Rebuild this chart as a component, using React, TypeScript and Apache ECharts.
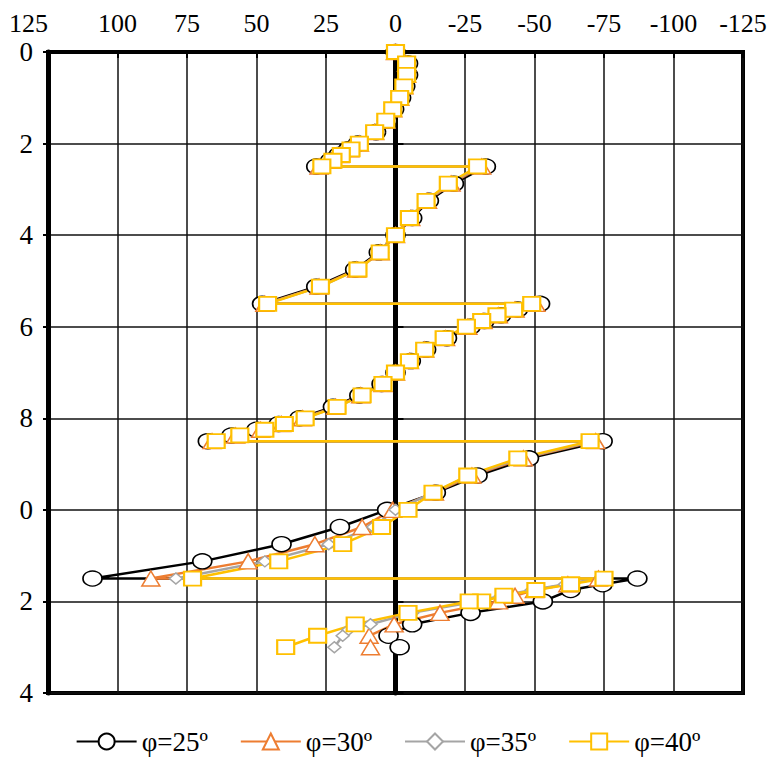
import React, { useEffect, useRef } from "react";
import * as echarts from "echarts";

// Shared depths (m) for the upper part of the profile
const depthUpper = [0, 0.25, 0.5, 0.75, 1, 1.25, 1.5, 1.75, 2, 2.125, 2.25, 2.375, 2.5, 2.5, 2.875, 3.25, 3.625, 4, 4.375, 4.75, 5.125, 5.5, 5.5, 5.625, 5.75, 5.875, 6, 6.25, 6.5, 6.75, 7, 7.25, 7.5, 7.75, 8, 8.125, 8.25, 8.375, 8.5, 8.5, 8.875, 9.25, 9.625];

const phi25Upper = [0, -4.5, -4.5, -3.5, -2, 0.5, 3, 7, 13.5, 17, 20.5, 23.5, 28.5, -32.5, -21, -12, -6, 0, 6, 14.5, 28.5, 48, -52, -44, -38, -32, -27, -18.5, -11, -5.5, 0, 5, 13, 22.5, 34.5, 42, 50, 59, 67.5, -74.5, -48, -29.5, -14.5];
const phi30Upper = [0, -4, -4, -3, -1.5, 1, 3.5, 7.5, 13, 16.5, 20, 23, 27.5, -31, -20, -11.5, -5.5, 0, 5.5, 14, 27.5, 47, -50.5, -43, -37, -31.5, -26, -18, -10.5, -5, 0, 4.5, 12.5, 21.5, 33.5, 41, 48.5, 57.5, 66, -72, -46, -27.5, -14];
const phi35Upper = [0, -4, -4, -3, -1.5, 1, 3.5, 7.5, 13, 16, 19.5, 22.5, 27, -30, -19.5, -11, -5, 0, 5.5, 13.5, 27, 46.5, -49.5, -42.5, -36.5, -31, -25.5, -17.5, -10.5, -5, 0, 4.5, 12, 21, 33, 40.5, 47.5, 56.5, 65, -71, -45, -26.5, -13.5];
const phi40Upper = [0, -4, -4, -3, -1.5, 1, 3.5, 7.5, 13, 16, 19.5, 22.5, 26.5, -29.5, -19, -11, -5, 0, 5.5, 13.5, 27, 46, -49, -42.5, -36.5, -31, -25.5, -17.5, -10.5, -5, 0, 4.5, 12, 21, 32.5, 40, 47, 56, 64.5, -70, -44, -26, -13.5];

// Lower part of the profile (series diverge)
const phi25LowerDepth = [10, 10.375, 10.75, 11.125, 11.5, 11.5, 11.625, 11.75, 12, 12.25, 12.5, 12.75, 13];
const phi25Lower = [3, 20, 41, 69.5, 109, -87, -74.5, -63, -53, -27, -6, 2.5, -1.5];
const phi30LowerDepth = [10, 10.375, 10.75, 11.125, 11.5, 11.5, 11.625, 11.75, 11.875, 12, 12.25, 12.5, 12.75, 13];
const phi30Lower = [1, 12, 29, 53, 88, -73, -62, -50, -43, -37, -16, 0.5, 9.5, 9];
const phi35LowerDepth = [10, 10.375, 10.75, 11.125, 11.5, 11.5, 11.625, 11.75, 11.875, 12, 12.25, 12.5, 12.625, 12.75, 13];
const phi35Lower = [0, 8, 24, 47, 79, -74, -61, -49, -38, -29, -6, 9, 17, 19, 22];
const phi40LowerDepth = [10, 10.375, 10.75, 11.125, 11.5, 11.5, 11.625, 11.75, 11.875, 12, 12, 12.25, 12.5, 12.75, 13];
const phi40Lower = [-4.5, 5, 19, 42, 73, -75, -63, -50.5, -39, -31, -26.5, -4.5, 14.5, 28, 39.5];

const seriesNames = ["φ=25º", "φ=30º", "φ=35º", "φ=40º"];
const FONT = "'Liberation Serif', 'DejaVu Serif', serif";

function pairs(xs: number[], ds: number[]) {
  return xs.map((x, i) => [x, ds[i]]);
}

export default function App() {
  const ref = useRef<HTMLDivElement>(null);
  useEffect(() => {
    const chart = echarts.init(ref.current!, null, { renderer: "svg" });
    const mk = (
      name: string,
      data: number[][],
      color: string,
      symbol: string,
      size: number[],
      bw: number
    ) => ({
      name,
      type: "line",
      data,
      symbol,
      symbolSize: size,
      showSymbol: true,
      xAxisIndex: 0,
      yAxisIndex: 0,
      lineStyle: { color, width: 2.5 },
      itemStyle: { color: "#fff", borderColor: color, borderWidth: bw },
      emphasis: { disabled: true },
    });
    const option = {
      animation: false,
      textStyle: { fontFamily: FONT },
      grid: {
        left: 48,
        right: 33,
        top: 52,
        bottom: 69,
        show: true,
        borderColor: "#000",
        borderWidth: 4,
      },
      legend: {
        bottom: 2,
        left: "center",
        itemWidth: 60,
        itemHeight: 20,
        itemGap: 32,
        textStyle: { fontFamily: FONT, fontSize: 27, color: "#000" },
        data: seriesNames,
      },
      xAxis: {
        type: "value",
        position: "top",
        inverse: true,
        min: -125,
        max: 125,
        interval: 25,
        axisLine: { onZero: false, lineStyle: { color: "#000", width: 4 } },
        axisTick: { show: true, inside: true, length: 6, lineStyle: { color: "#000", width: 2 } },
        axisLabel: {
          fontFamily: FONT,
          fontSize: 26,
          color: "#000",
          margin: 16,
          alignMaxLabel: "right",
        },
        splitLine: { show: true, lineStyle: { color: "#111", width: 1.5 } },
      },
      yAxis: [
        {
          type: "value",
          position: "left",
          inverse: true,
          min: 0,
          max: 14,
          interval: 2,
          axisLine: { onZero: false, lineStyle: { color: "#000", width: 5 } },
          axisTick: { show: true, length: 5, lineStyle: { color: "#000", width: 2 } },
          axisLabel: {
            fontFamily: FONT,
            fontSize: 27,
            color: "#000",
            margin: 15,
            formatter: (v: number) => String(v % 10),
          },
          splitLine: { show: true, lineStyle: { color: "#111", width: 1.5 } },
        },
        {
          type: "value",
          position: "left",
          inverse: true,
          min: 0,
          max: 14,
          interval: 2,
          axisLine: { show: true, onZero: true, lineStyle: { color: "#000", width: 5 } },
          axisTick: { show: true, inside: true, length: 8, lineStyle: { color: "#000", width: 2 } },
          axisLabel: { show: false },
          splitLine: { show: false },
        },
      ],
      series: [
        mk(seriesNames[0], [...pairs(phi25Upper, depthUpper), ...pairs(phi25Lower, phi25LowerDepth)], "#000000", "circle", [19, 15], 1.5),
        mk(seriesNames[1], [...pairs(phi30Upper, depthUpper), ...pairs(phi30Lower, phi30LowerDepth)], "#ED7D31", "triangle", [18, 15], 1.5),
        mk(seriesNames[2], [...pairs(phi35Upper, depthUpper), ...pairs(phi35Lower, phi35LowerDepth)], "#A5A5A5", "diamond", [13, 11], 1.5),
        mk(seriesNames[3], [...pairs(phi40Upper, depthUpper), ...pairs(phi40Lower, phi40LowerDepth)], "#FFC000", "rect", [17, 14], 2),
      ],
    };
    chart.setOption(option as any);
    return () => chart.dispose();
  }, []);
  return (
    <div
      ref={ref}
      style={{ position: "fixed", left: 0, top: 0, width: 776, height: 762, background: "#fff" }}
    />
  );
}
